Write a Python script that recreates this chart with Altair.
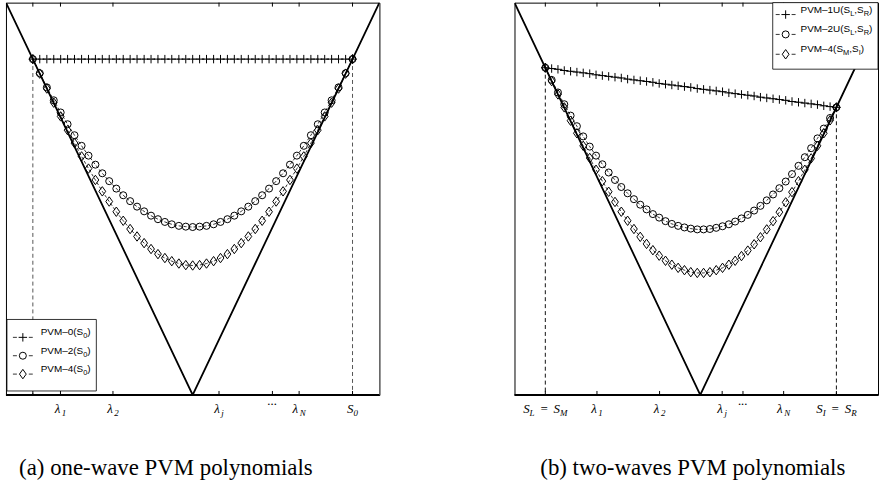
import altair as alt
import pandas as pd

# ---------------- panel (a): one-wave ----------------
xa = [-0.856, -0.819, -0.781, -0.744, -0.707, -0.670, -0.633, -0.595, -0.558, -0.521,
      -0.484, -0.447, -0.409, -0.372, -0.335, -0.298, -0.260, -0.223, -0.186, -0.149,
      -0.112, -0.074, -0.037, 0.000, 0.037, 0.074, 0.112, 0.149, 0.186, 0.223,
      0.260, 0.298, 0.335, 0.372, 0.409, 0.447, 0.484, 0.521, 0.558, 0.595,
      0.633, 0.670, 0.707, 0.744, 0.781, 0.819, 0.856]
a_pvm0 = [0.856, 0.856, 0.856, 0.856, 0.856, 0.856, 0.856, 0.856, 0.856, 0.856,
          0.856, 0.856, 0.856, 0.856, 0.856, 0.856, 0.856, 0.856, 0.856, 0.856,
          0.856, 0.856, 0.856, 0.856, 0.856, 0.856, 0.856, 0.856, 0.856, 0.856,
          0.856, 0.856, 0.856, 0.856, 0.856, 0.856, 0.856, 0.856, 0.856, 0.856,
          0.856, 0.856, 0.856, 0.856, 0.856, 0.856, 0.856]
a_pvm2 = [0.856, 0.820, 0.784, 0.751, 0.720, 0.690, 0.662, 0.635, 0.610, 0.587,
          0.565, 0.545, 0.526, 0.509, 0.494, 0.480, 0.468, 0.457, 0.448, 0.441,
          0.435, 0.431, 0.429, 0.428, 0.429, 0.431, 0.435, 0.441, 0.448, 0.457,
          0.468, 0.480, 0.494, 0.509, 0.526, 0.545, 0.565, 0.587, 0.610, 0.635,
          0.662, 0.690, 0.720, 0.751, 0.784, 0.820, 0.856]
a_pvm4 = [0.856, 0.819, 0.781, 0.745, 0.710, 0.675, 0.642, 0.608, 0.577, 0.548,
          0.519, 0.493, 0.467, 0.444, 0.423, 0.404, 0.387, 0.372, 0.359, 0.349,
          0.341, 0.335, 0.331, 0.330, 0.331, 0.335, 0.341, 0.349, 0.359, 0.372,
          0.387, 0.404, 0.423, 0.444, 0.467, 0.493, 0.519, 0.548, 0.577, 0.608,
          0.642, 0.675, 0.710, 0.745, 0.781, 0.819, 0.856]
a_vx = [-1.0, 0.0, 1.0]
a_vy = [1.0, 0.0, 1.0]
a_end_x = [-0.856, 0.856]
a_end_y = [0.856, 0.856]
a_ticks = [-0.856, -0.708, -0.427, 0.141, 0.427, 0.570, 0.856]
a_labels = ["", "λ_1", "λ_2", "λ_j", "...", "λ_N", "S_0"]
a_names = ["PVM–0(S_0)", "PVM–2(S_0)", "PVM–4(S_0)"]
a_caption = "(a) one-wave PVM polynomials"

# ---------------- panel (b): two-waves ----------------
xb = [-0.834, -0.800, -0.766, -0.732, -0.698, -0.664, -0.630, -0.595, -0.561, -0.527,
      -0.493, -0.459, -0.425, -0.391, -0.357, -0.323, -0.289, -0.255, -0.221, -0.187,
      -0.153, -0.119, -0.085, -0.051, -0.016, 0.018, 0.052, 0.086, 0.120, 0.154,
      0.188, 0.222, 0.256, 0.290, 0.324, 0.358, 0.392, 0.426, 0.460, 0.494,
      0.529, 0.563, 0.597, 0.631, 0.665, 0.699, 0.733]
b_pvm1 = [0.834, 0.832, 0.830, 0.827, 0.825, 0.823, 0.821, 0.819, 0.816, 0.814,
          0.812, 0.810, 0.808, 0.805, 0.803, 0.801, 0.799, 0.797, 0.794, 0.792,
          0.790, 0.788, 0.786, 0.784, 0.781, 0.779, 0.777, 0.775, 0.773, 0.770,
          0.768, 0.766, 0.764, 0.762, 0.759, 0.757, 0.755, 0.753, 0.751, 0.748,
          0.746, 0.744, 0.742, 0.740, 0.737, 0.735, 0.733]
b_pvm2 = [0.834, 0.803, 0.771, 0.741, 0.712, 0.685, 0.659, 0.633, 0.610, 0.588,
          0.567, 0.548, 0.530, 0.514, 0.499, 0.485, 0.473, 0.461, 0.452, 0.443,
          0.436, 0.431, 0.427, 0.424, 0.422, 0.422, 0.423, 0.426, 0.430, 0.435,
          0.442, 0.450, 0.459, 0.470, 0.482, 0.496, 0.511, 0.527, 0.544, 0.563,
          0.584, 0.606, 0.629, 0.654, 0.679, 0.706, 0.733]
b_pvm4 = [0.834, 0.800, 0.766, 0.733, 0.699, 0.667, 0.635, 0.604, 0.574, 0.545,
          0.518, 0.492, 0.467, 0.444, 0.423, 0.403, 0.385, 0.369, 0.355, 0.342,
          0.332, 0.324, 0.318, 0.313, 0.311, 0.311, 0.313, 0.318, 0.324, 0.332,
          0.342, 0.354, 0.368, 0.384, 0.402, 0.422, 0.443, 0.466, 0.491, 0.517,
          0.545, 0.574, 0.603, 0.635, 0.667, 0.700, 0.733]
b_vx = [-1.0, 0.0, 0.957]
b_vy = [1.0, 0.0, 0.957]
b_end_x = [-0.834, 0.733]
b_end_y = [0.834, 0.733]
b_ticks = [-0.834, -0.556, -0.219, 0.118, 0.230, 0.449, 0.733]
b_labels = ["S_L = S_M", "λ_1", "λ_2", "λ_j", "...", "λ_N", "S_I = S_R"]
b_names = ["PVM–1U(S_L,S_R)", "PVM–2U(S_L,S_R)", "PVM–4(S_M,S_I)"]
b_caption = "(b) two-waves PVM polynomials"

# ---------------- styling ----------------
H = 395
SERIF = "Liberation Serif, DejaVu Serif, serif"
SANS = "Liberation Sans, Arial, sans-serif"
PLUS = "M-1,0L1,0M0,-1L0,1"
DIAMOND = "M0,-1L0.72,0L0,1L-0.72,0Z"
MARKERS = [(PLUS, 72), ("circle", 50), (DIAMOND, 90)]
SERIF_W = {'S': 0.5, 'L': 0.556, 'M': 0.833, 'I': 0.333, 'R': 0.611, '=': 0.675,
           ' ': 0.4, 'λ': 0.55, 'j': 0.278, 'N': 0.667, '.': 0.25}
SANS_W = {'P': 0.667, 'V': 0.667, 'M': 0.833, '–': 0.556, 'U': 0.722, '(': 0.333,
          ')': 0.333, 'S': 0.667, 'L': 0.556, 'R': 0.722, 'I': 0.278, ',': 0.278}


def segments(label, size_main, size_sub, wtab, wdef):
    """Split a label like 'S_L = S_M' into text pieces with running offsets.
    Spaces only advance the offset (they are not drawn)."""
    parts, i = [], 0
    while i < len(label):
        if label[i] == '_':
            parts.append((label[i + 1], 'sub'))
            i += 2
        elif label[i] == ' ':
            parts.append((' ', 'space'))
            i += 1
        else:
            j = i
            while j < len(label) and label[j] not in '_ ':
                j += 1
            parts.append((label[i:j], 'main'))
            i = j
    rows, cum = [], 0.0
    for t, k in parts:
        size = size_sub if k == 'sub' else size_main
        w = sum(wtab.get(c, wdef) for c in t) * size
        if k != 'space':
            rows.append({'text': t, 'kind': k, 'start': cum})
        cum += w
    return rows, cum


def panel(xv, series, vx, vy, end_x, end_y, ticks, labels, names, caption,
          xdom, W, dash_color, legend, cap_x):
    xs = alt.Scale(domain=xdom, nice=False, zero=False)
    ys = alt.Scale(domain=[0, 1], nice=False, zero=False)
    X = lambda f: alt.X(f, type='quantitative', scale=xs, axis=None)
    Y = lambda f: alt.Y(f, type='quantitative', scale=ys, axis=None)
    px_per_unit = W / (xdom[1] - xdom[0])
    one = pd.DataFrame({'a': [0]})
    layers = []

    # V shaped |x|
    layers.append(alt.Chart(pd.DataFrame({'x': vx, 'y': vy}))
                  .mark_line(color='black', strokeWidth=1.8, clip=True)
                  .encode(x=X('x'), y=Y('y')))
    # dashed verticals
    layers.append(alt.Chart(pd.DataFrame({'x': end_x, 'y': end_y}))
                  .mark_rule(color=dash_color, strokeWidth=1, strokeDash=[4, 3])
                  .encode(x=X('x'), y=Y('y'), y2=alt.value(H)))
    # series
    for yv, (shape, size) in zip(series, MARKERS):
        base = alt.Chart(pd.DataFrame({'x': xv, 'y': yv})).encode(x=X('x'), y=Y('y'))
        layers.append(base.mark_line(color='black', strokeWidth=0.8, strokeDash=[3, 2]))
        layers.append(base.mark_point(shape=shape, size=size, filled=False, color='black',
                                      strokeWidth=1.0, opacity=1))
    # ticks (inward, bottom and top)
    tdf = pd.DataFrame({'t': ticks})
    layers.append(alt.Chart(tdf).mark_rule(color='black', strokeWidth=1)
                  .encode(x=X('t'), y=alt.value(H - 4), y2=alt.value(H)))
    layers.append(alt.Chart(tdf).mark_rule(color='black', strokeWidth=1)
                  .encode(x=X('t'), y=alt.value(0), y2=alt.value(4)))
    # thick bottom axis line
    layers.append(alt.Chart(one).mark_rule(color='black', strokeWidth=2)
                  .encode(x=alt.value(0), x2=alt.value(W), y=alt.value(H)))

    # tick labels (placed at tick value, shifted by a pixel offset converted to data units)
    rows = []
    for t, lab in zip(ticks, labels):
        if not lab:
            continue
        if lab == '...':
            w = 3 * 0.25 * 13
            rows.append({'t': t, 'text': '...', 'kind': 'dots', 'off': -w / 2})
            continue
        segs, total = segments(lab, 13, 9, SERIF_W, 0.5)
        for s in segs:
            rows.append({'t': t, 'text': s['text'], 'kind': s['kind'],
                         'off': s['start'] - total / 2})
    ldf = pd.DataFrame(rows)
    for kind, size, ypix in [('main', 13, 413), ('sub', 9, 416), ('dots', 13, 405)]:
        layers.append(alt.Chart(ldf).transform_filter(f"datum.kind == '{kind}'")
                      .transform_calculate(tx=f"datum.t + datum.off / {px_per_unit}")
                      .mark_text(align='left', baseline='alphabetic', font=SERIF,
                                 fontStyle='italic', fontSize=size, color='black')
                      .encode(x=X('tx'), y=alt.value(ypix), text='text:N'))

    # legend
    bx0, bx1, by0, by1, mx, tx, ly0, ldy = legend
    layers.append(alt.Chart(one).mark_rect(fill='white', stroke='black', strokeWidth=0.8)
                  .encode(x=alt.value(bx0), x2=alt.value(bx1), y=alt.value(by0), y2=alt.value(by1)))
    lrows = []
    for i, ((shape, size), name) in enumerate(zip(MARKERS, names)):
        yi = ly0 + i * ldy
        layers.append(alt.Chart(one).mark_rule(color='black', strokeWidth=0.8, strokeDash=[4, 12])
                      .encode(x=alt.value(mx - 10), x2=alt.value(mx + 10), y=alt.value(yi)))
        layers.append(alt.Chart(one).mark_point(shape=shape, size=size, filled=False,
                                                color='black', strokeWidth=1.0, opacity=1)
                      .encode(x=alt.value(mx), y=alt.value(yi)))
        segs, total = segments(name, 10, 7.5, SANS_W, 0.556)
        for s in segs:
            lrows.append({'i': i, 'text': s['text'], 'kind': s['kind'], 'off': s['start']})
    gdf = pd.DataFrame(lrows)
    for kind, size, dy in [('main', 10, -2), ('sub', 7.5, 1)]:
        layers.append(alt.Chart(gdf).transform_filter(f"datum.kind == '{kind}'")
                      .transform_calculate(px=f"{tx} + datum.off", py=f"{ly0} + datum.i * {ldy} + {dy}")
                      .mark_text(align='left', baseline='alphabetic', font=SANS,
                                 fontSize=size, color='black')
                      .encode(x=alt.X('px:Q', scale=None), y=alt.Y('py:Q', scale=None),
                              text='text:N'))
    # caption
    layers.append(alt.Chart(pd.DataFrame({'c': [caption]}))
                  .mark_text(font=SERIF, fontSize=23, align='center',
                             baseline='alphabetic', color='black')
                  .encode(x=alt.value(cap_x), y=alt.value(476), text='c:N'))
    return alt.layer(*layers).properties(width=W, height=H)


left = panel(xa, [a_pvm0, a_pvm2, a_pvm4], a_vx, a_vy, a_end_x, a_end_y, a_ticks, a_labels,
             a_names, a_caption, [-1.0, 1.0], 376, '#555555',
             (1, 91, 319, 391, 17, 35, 337, 18.5), 161)
right = panel(xb, [b_pvm1, b_pvm2, b_pvm4], b_vx, b_vy, b_end_x, b_end_y, b_ticks, b_labels,
              b_names, b_caption, [-1.0, 0.957], 366, '#111111',
              (260, 366, 0, 67, 273, 288, 12, 20), 179.5)

chart = (alt.hconcat(left, right, spacing=132)
         .properties(padding={'left': 4, 'top': 0, 'right': 0, 'bottom': 0})
         .configure_view(stroke='black', strokeWidth=1))

chart.save("out.html", embed_options={"renderer": "svg", "actions": False})
